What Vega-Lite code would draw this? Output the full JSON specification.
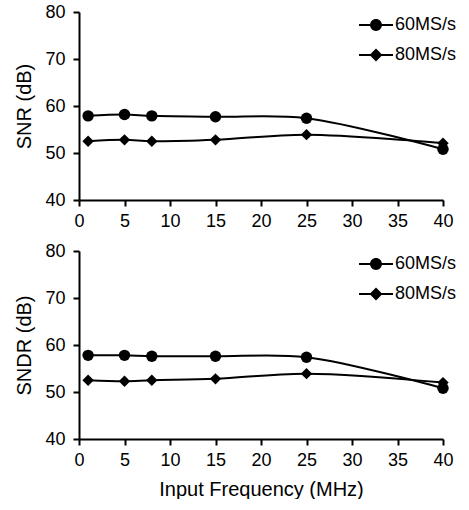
{
  "$schema": "https://vega.github.io/schema/vega-lite/v6.json",
  "padding": {"left": 14, "top": 3, "right": 0, "bottom": 0},
  "background": "white",
  "config": {
    "font": "Liberation Sans",
    "view": {"stroke": null},
    "axis": {
      "grid": false,
      "domainColor": "#000",
      "domainWidth": 2,
      "tickColor": "#000",
      "tickWidth": 2,
      "tickSize": 6,
      "labelFontSize": 18,
      "labelColor": "#000",
      "labelFlush": false,
      "titleFontSize": 20,
      "titleFontWeight": "normal",
      "titleColor": "#000",
      "labelPadding": 6
    },
    "legend": {
      "labelFontSize": 18,
      "labelColor": "#000",
      "labelOffset": 1,
      "symbolSize": 1156,
      "symbolOpacity": 1,
      "rowPadding": 3,
      "padding": 0
    }
  },
  "datasets": {
    "snr": [
      {"freq": 1, "series": "60MS/s", "value": 57.9},
      {"freq": 5, "series": "60MS/s", "value": 58.2},
      {"freq": 8, "series": "60MS/s", "value": 57.9},
      {"freq": 15, "series": "60MS/s", "value": 57.7},
      {"freq": 25, "series": "60MS/s", "value": 57.4},
      {"freq": 40, "series": "60MS/s", "value": 50.8},
      {"freq": 1, "series": "80MS/s", "value": 52.5},
      {"freq": 5, "series": "80MS/s", "value": 52.8},
      {"freq": 8, "series": "80MS/s", "value": 52.5},
      {"freq": 15, "series": "80MS/s", "value": 52.8},
      {"freq": 25, "series": "80MS/s", "value": 53.9},
      {"freq": 40, "series": "80MS/s", "value": 52.1}
    ],
    "sndr": [
      {"freq": 1, "series": "60MS/s", "value": 57.8},
      {"freq": 5, "series": "60MS/s", "value": 57.8},
      {"freq": 8, "series": "60MS/s", "value": 57.6},
      {"freq": 15, "series": "60MS/s", "value": 57.6},
      {"freq": 25, "series": "60MS/s", "value": 57.4},
      {"freq": 40, "series": "60MS/s", "value": 50.8},
      {"freq": 1, "series": "80MS/s", "value": 52.5},
      {"freq": 5, "series": "80MS/s", "value": 52.3},
      {"freq": 8, "series": "80MS/s", "value": 52.5},
      {"freq": 15, "series": "80MS/s", "value": 52.8},
      {"freq": 25, "series": "80MS/s", "value": 53.9},
      {"freq": 40, "series": "80MS/s", "value": 52.0}
    ]
  },
  "spacing": 12,
  "resolve": {"scale": {"shape": "independent"}, "legend": {"shape": "independent"}},
  "vconcat": [
    {
      "width": 364,
      "height": 188,
      "data": {"name": "snr"},
      "encoding": {
        "x": {"field": "freq", "type": "quantitative", "scale": {"domain": [0, 40]}, "axis": {"values": [0, 5, 10, 15, 20, 25, 30, 35, 40], "title": null}},
        "y": {"field": "value", "type": "quantitative", "scale": {"domain": [40, 80]}, "axis": {"values": [40, 50, 60, 70, 80], "title": "SNR (dB)", "titlePadding": 10, "labelPadding": 8}}
      },
      "resolve": {"scale": {"shape": "independent"}, "legend": {"shape": "independent"}},
      "layer": [
        {"mark": {"type": "line", "interpolate": "catmull-rom", "color": "#000", "strokeWidth": 2}, "encoding": {"detail": {"field": "series"}}},
        {
          "mark": {"type": "point", "filled": true, "color": "#000", "opacity": 1, "size": 130},
          "encoding": {
            "shape": {"field": "series", "type": "nominal", "scale": {"domain": ["60MS/s", "80MS/s"], "range": ["circle", "diamond"]}, "legend": null}
          }
        },
        {
          "mark": {"type": "point", "filled": true, "color": "#000", "opacity": 0, "size": 1156},
          "encoding": {
            "shape": {
              "field": "series", "type": "nominal",
              "scale": {"domain": ["60MS/s", "80MS/s"], "range": ["M-1,-0.06H1V0.06H-1ZM-0.35,0A0.35,0.35 0 1 1 0.35,0A0.35,0.35 0 1 1 -0.35,0Z", "M-1,-0.06H1V0.06H-1ZM0,-0.38L0.38,0L0,0.38L-0.38,0Z"]},
              "legend": {"title": null, "orient": "none", "legendX": 279, "legendY": -5, "symbolOpacity": 1}
            }
          }
        }
      ]
    },
    {
      "width": 364,
      "height": 188,
      "data": {"name": "sndr"},
      "encoding": {
        "x": {"field": "freq", "type": "quantitative", "scale": {"domain": [0, 40]}, "axis": {"values": [0, 5, 10, 15, 20, 25, 30, 35, 40], "title": "Input Frequency (MHz)", "titlePadding": 10}},
        "y": {"field": "value", "type": "quantitative", "scale": {"domain": [40, 80]}, "axis": {"values": [40, 50, 60, 70, 80], "title": "SNDR (dB)", "titlePadding": 10, "labelPadding": 8}}
      },
      "resolve": {"scale": {"shape": "independent"}, "legend": {"shape": "independent"}},
      "layer": [
        {"mark": {"type": "line", "interpolate": "catmull-rom", "color": "#000", "strokeWidth": 2}, "encoding": {"detail": {"field": "series"}}},
        {
          "mark": {"type": "point", "filled": true, "color": "#000", "opacity": 1, "size": 130},
          "encoding": {
            "shape": {"field": "series", "type": "nominal", "scale": {"domain": ["60MS/s", "80MS/s"], "range": ["circle", "diamond"]}, "legend": null}
          }
        },
        {
          "mark": {"type": "point", "filled": true, "color": "#000", "opacity": 0, "size": 1156},
          "encoding": {
            "shape": {
              "field": "series", "type": "nominal",
              "scale": {"domain": ["60MS/s", "80MS/s"], "range": ["M-1,-0.06H1V0.06H-1ZM-0.35,0A0.35,0.35 0 1 1 0.35,0A0.35,0.35 0 1 1 -0.35,0Z", "M-1,-0.06H1V0.06H-1ZM0,-0.38L0.38,0L0,0.38L-0.38,0Z"]},
              "legend": {"title": null, "orient": "none", "legendX": 279, "legendY": -5, "symbolOpacity": 1}
            }
          }
        }
      ]
    }
  ]
}
